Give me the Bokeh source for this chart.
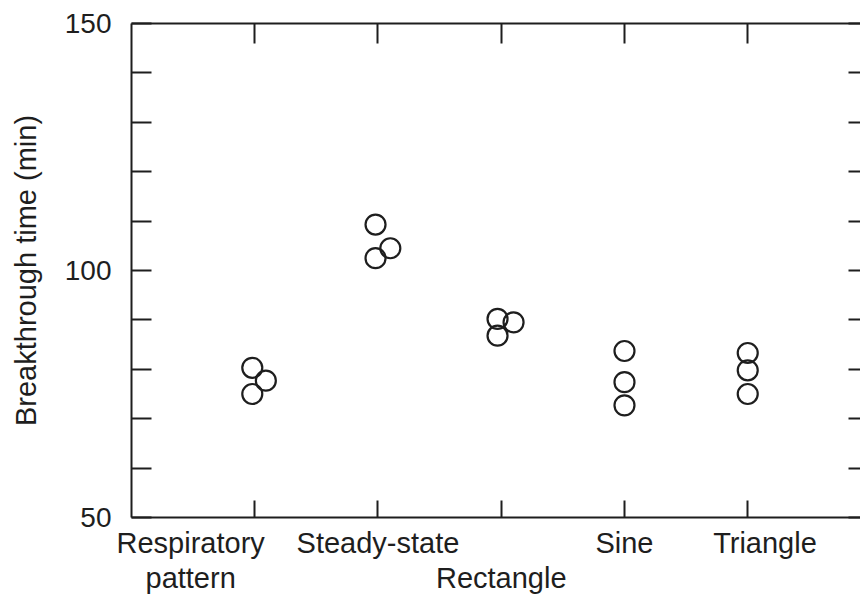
from bokeh.plotting import figure
from bokeh.models import ColumnDataSource, FixedTicker, LinearAxis, Range1d
from bokeh.embed import file_html
from bokeh.resources import INLINE

# ---- data ----
categories = ["Respiratory\npattern", "Steady-state", "\nRectangle", "Sine", "Triangle"]
cat_index = [1, 2, 3, 4, 5]
# breakthrough times (min), three replicates per pattern
point_cat = [1, 1, 1, 2, 2, 2, 3, 3, 3, 4, 4, 4, 5, 5, 5]
point_jitter = [-0.02, 0.09, -0.02, -0.02, 0.10, -0.02, -0.03, 0.10, -0.03,
                0.0, 0.0, 0.0, 0.0, 0.0, 0.0]
breakthrough = [80.3, 77.7, 75.0, 109.3, 104.5, 102.5, 90.2, 89.5, 86.8,
                83.7, 77.4, 72.7, 83.3, 79.8, 75.0]
y_major = [50, 100, 150]
y_minor = [60, 70, 80, 90, 110, 120, 130, 140]

INK = "#1e1e1e"
FONT = "Liberation Sans"

xs = [c + j for c, j in zip(point_cat, point_jitter)]
src = ColumnDataSource(dict(x=xs, y=breakthrough))

p = figure(width=860, height=597, output_backend="svg", toolbar_location=None,
           x_range=Range1d(0, 5.915), y_range=Range1d(50, 150),
           min_border_left=131, min_border_top=23, min_border_right=0,
           min_border_bottom=0, background_fill_color="white",
           border_fill_color="white")
p.outline_line_color = None
p.xgrid.visible = False
p.ygrid.visible = False

p.scatter("x", "y", source=src, marker="circle", size=20,
          fill_color=None, line_color=INK, line_width=2.2)

def hide_labels(ax):
    ax.major_label_text_font_size = "1px"
    ax.major_label_text_color = None
    ax.major_label_standoff = 0

# bottom axis: tick marks only
xa = p.xaxis[0]
xa.ticker = FixedTicker(ticks=cat_index, minor_ticks=[])
xa.major_tick_in = 17
xa.major_tick_out = 0
hide_labels(xa)
xa.axis_line_width = 2
xa.axis_line_color = INK
xa.major_tick_line_width = 2
xa.major_tick_line_color = INK

# bottom axis: category names (placed as in the original figure)
label_pos = [0.48, 2.0, 3.0, 4.0, 5.14]
names = LinearAxis(ticker=FixedTicker(ticks=label_pos, minor_ticks=[]),
                   major_label_overrides={pos: name for pos, name in zip(label_pos, categories)},
                   major_tick_in=0, major_tick_out=0, axis_line_color=None,
                   major_tick_line_color=None,
                   major_label_text_font=FONT, major_label_text_font_size="29px",
                   major_label_text_color=INK, major_label_standoff=9,
                   major_label_text_line_height=1.12)
p.add_layout(names, "below")

# left axis
ya = p.yaxis[0]
ya.ticker = FixedTicker(ticks=y_major, minor_ticks=y_minor)
ya.major_tick_in = 20
ya.major_tick_out = 0
ya.minor_tick_in = 20
ya.minor_tick_out = 0
ya.axis_line_width = 2
ya.axis_line_color = INK
ya.major_tick_line_width = 2
ya.minor_tick_line_width = 2
ya.major_tick_line_color = INK
ya.minor_tick_line_color = INK
ya.major_label_text_font = FONT
ya.major_label_text_font_size = "28px"
ya.major_label_text_color = INK
ya.major_label_standoff = 20
ya.axis_label = "Breakthrough time (min)"
ya.axis_label_text_font = FONT
ya.axis_label_text_font_size = "29px"
ya.axis_label_text_font_style = "normal"
ya.axis_label_text_color = INK
ya.axis_label_standoff = 20

# top axis
top = LinearAxis(ticker=FixedTicker(ticks=cat_index, minor_ticks=[]),
                 major_tick_in=20, major_tick_out=0,
                 axis_line_width=2, axis_line_color=INK,
                 major_tick_line_width=2, major_tick_line_color=INK)
hide_labels(top)
p.add_layout(top, "above")

# right axis (spine lies at the cut edge)
right = LinearAxis(ticker=FixedTicker(ticks=y_major, minor_ticks=y_minor),
                   major_tick_in=12, major_tick_out=0,
                   minor_tick_in=12, minor_tick_out=0,
                   axis_line_color=None,
                   major_tick_line_width=2, major_tick_line_color=INK,
                   minor_tick_line_width=2, minor_tick_line_color=INK)
hide_labels(right)
p.add_layout(right, "right")

open("out.html", "w").write(file_html(p, INLINE))
